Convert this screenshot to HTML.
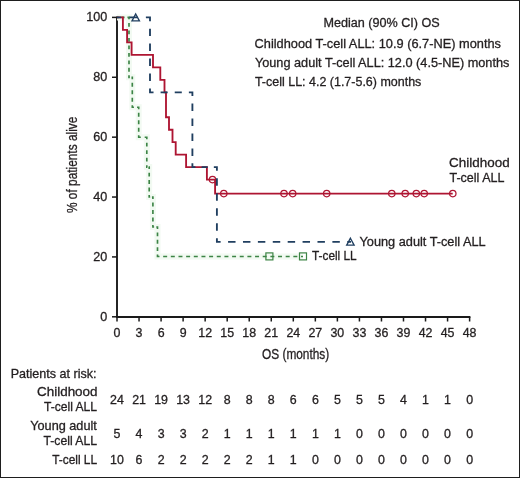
<!DOCTYPE html>
<html><head><meta charset="utf-8"><style>
html,body{margin:0;padding:0;background:#fff;}
#c{position:relative;width:520px;height:478px;box-sizing:border-box;border:1px solid #1e1e1e;overflow:hidden;}
svg{position:absolute;left:-1px;top:-1px;will-change:transform;}
text{font-family:"Liberation Sans", sans-serif;stroke:#231f20;stroke-width:0.3px;}
</style></head><body><div id="c">
<svg width="520" height="478" viewBox="0 0 520 478">
<line x1="117" y1="16.60" x2="117" y2="317.9" stroke="#1a1a1a" stroke-width="1.9"/>
<line x1="116" y1="316.95" x2="470.41" y2="316.95" stroke="#1a1a1a" stroke-width="1.9"/>
<line x1="112" y1="316.80" x2="117" y2="316.80" stroke="#1a1a1a" stroke-width="1.5"/>
<text x="107.2" y="320.5" font-size="12.6" text-anchor="end" fill="#231f20">0</text>
<line x1="112" y1="256.92" x2="117" y2="256.92" stroke="#1a1a1a" stroke-width="1.5"/>
<text x="107.2" y="260.6" font-size="12.6" text-anchor="end" fill="#231f20">20</text>
<line x1="112" y1="197.04" x2="117" y2="197.04" stroke="#1a1a1a" stroke-width="1.5"/>
<text x="107.2" y="200.7" font-size="12.6" text-anchor="end" fill="#231f20">40</text>
<line x1="112" y1="137.16" x2="117" y2="137.16" stroke="#1a1a1a" stroke-width="1.5"/>
<text x="107.2" y="140.9" font-size="12.6" text-anchor="end" fill="#231f20">60</text>
<line x1="112" y1="77.28" x2="117" y2="77.28" stroke="#1a1a1a" stroke-width="1.5"/>
<text x="107.2" y="81.0" font-size="12.6" text-anchor="end" fill="#231f20">80</text>
<line x1="112" y1="17.40" x2="117" y2="17.40" stroke="#1a1a1a" stroke-width="1.5"/>
<text x="107.2" y="21.1" font-size="12.6" text-anchor="end" fill="#231f20">100</text>
<line x1="117.00" y1="317" x2="117.00" y2="321.5" stroke="#1a1a1a" stroke-width="1.5"/>
<text x="117.00" y="337.4" font-size="12.4" text-anchor="middle" fill="#231f20">0</text>
<line x1="139.04" y1="317" x2="139.04" y2="321.5" stroke="#1a1a1a" stroke-width="1.5"/>
<text x="139.04" y="337.4" font-size="12.4" text-anchor="middle" fill="#231f20">3</text>
<line x1="161.08" y1="317" x2="161.08" y2="321.5" stroke="#1a1a1a" stroke-width="1.5"/>
<text x="161.08" y="337.4" font-size="12.4" text-anchor="middle" fill="#231f20">6</text>
<line x1="183.11" y1="317" x2="183.11" y2="321.5" stroke="#1a1a1a" stroke-width="1.5"/>
<text x="183.11" y="337.4" font-size="12.4" text-anchor="middle" fill="#231f20">9</text>
<line x1="205.15" y1="317" x2="205.15" y2="321.5" stroke="#1a1a1a" stroke-width="1.5"/>
<text x="205.15" y="337.4" font-size="12.4" text-anchor="middle" fill="#231f20">12</text>
<line x1="227.19" y1="317" x2="227.19" y2="321.5" stroke="#1a1a1a" stroke-width="1.5"/>
<text x="227.19" y="337.4" font-size="12.4" text-anchor="middle" fill="#231f20">15</text>
<line x1="249.23" y1="317" x2="249.23" y2="321.5" stroke="#1a1a1a" stroke-width="1.5"/>
<text x="249.23" y="337.4" font-size="12.4" text-anchor="middle" fill="#231f20">18</text>
<line x1="271.27" y1="317" x2="271.27" y2="321.5" stroke="#1a1a1a" stroke-width="1.5"/>
<text x="271.27" y="337.4" font-size="12.4" text-anchor="middle" fill="#231f20">21</text>
<line x1="293.30" y1="317" x2="293.30" y2="321.5" stroke="#1a1a1a" stroke-width="1.5"/>
<text x="293.30" y="337.4" font-size="12.4" text-anchor="middle" fill="#231f20">24</text>
<line x1="315.34" y1="317" x2="315.34" y2="321.5" stroke="#1a1a1a" stroke-width="1.5"/>
<text x="315.34" y="337.4" font-size="12.4" text-anchor="middle" fill="#231f20">27</text>
<line x1="337.38" y1="317" x2="337.38" y2="321.5" stroke="#1a1a1a" stroke-width="1.5"/>
<text x="337.38" y="337.4" font-size="12.4" text-anchor="middle" fill="#231f20">30</text>
<line x1="359.42" y1="317" x2="359.42" y2="321.5" stroke="#1a1a1a" stroke-width="1.5"/>
<text x="359.42" y="337.4" font-size="12.4" text-anchor="middle" fill="#231f20">33</text>
<line x1="381.46" y1="317" x2="381.46" y2="321.5" stroke="#1a1a1a" stroke-width="1.5"/>
<text x="381.46" y="337.4" font-size="12.4" text-anchor="middle" fill="#231f20">36</text>
<line x1="403.49" y1="317" x2="403.49" y2="321.5" stroke="#1a1a1a" stroke-width="1.5"/>
<text x="403.49" y="337.4" font-size="12.4" text-anchor="middle" fill="#231f20">39</text>
<line x1="425.53" y1="317" x2="425.53" y2="321.5" stroke="#1a1a1a" stroke-width="1.5"/>
<text x="425.53" y="337.4" font-size="12.4" text-anchor="middle" fill="#231f20">42</text>
<line x1="447.57" y1="317" x2="447.57" y2="321.5" stroke="#1a1a1a" stroke-width="1.5"/>
<text x="447.57" y="337.4" font-size="12.4" text-anchor="middle" fill="#231f20">45</text>
<line x1="469.61" y1="317" x2="469.61" y2="321.5" stroke="#1a1a1a" stroke-width="1.5"/>
<text x="469.61" y="337.4" font-size="12.4" text-anchor="middle" fill="#231f20">48</text>
<text x="262.04" y="358.50" font-size="14.2" textLength="67.19" lengthAdjust="spacingAndGlyphs" fill="#231f20">OS (months)</text>
<text x="-213.02" y="77.20" font-size="14.2" textLength="96.33" lengthAdjust="spacingAndGlyphs" fill="#231f20" transform="rotate(-90)">% of patients alive</text>
<text x="323.57" y="27.20" font-size="12.5" textLength="116.19" lengthAdjust="spacingAndGlyphs" fill="#231f20">Median (90% CI) OS</text>
<text x="254.56" y="48.10" font-size="12.5" textLength="246.40" lengthAdjust="spacingAndGlyphs" fill="#231f20">Childhood T-cell ALL: 10.9 (6.7-NE) months</text>
<text x="254.92" y="66.90" font-size="12.5" textLength="254.44" lengthAdjust="spacingAndGlyphs" fill="#231f20">Young adult T-cell ALL: 12.0 (4.5-NE) months</text>
<text x="254.93" y="85.70" font-size="12.5" textLength="166.43" lengthAdjust="spacingAndGlyphs" fill="#231f20">T-cell LL: 4.2 (1.7-5.6) months</text>
<text x="449.13" y="166.70" font-size="12.5" textLength="60.54" lengthAdjust="spacingAndGlyphs" fill="#231f20">Childhood</text>
<text x="449.53" y="181.90" font-size="12.5" textLength="54.89" lengthAdjust="spacingAndGlyphs" fill="#231f20">T-cell ALL</text>
<text x="359.52" y="245.90" font-size="12.5" textLength="126.10" lengthAdjust="spacingAndGlyphs" fill="#231f20">Young adult T-cell ALL</text>
<text x="311.94" y="259.80" font-size="12.5" textLength="44.76" lengthAdjust="spacingAndGlyphs" fill="#231f20">T-cell LL</text>
<path d="M117.00,17.40 L129.00,17.40 L129.00,77.30 L132.30,77.30 L132.30,107.20 L138.70,107.20 L138.70,137.20 L146.80,137.20 L146.80,167.10 L149.20,167.10 L149.20,197.00 L152.90,197.00 L152.90,227.00 L157.50,227.00 L157.50,256.50 L303.00,256.50" fill="none" stroke="#f2faf2" stroke-width="6"/>
<path d="M117.00,17.40 L118.56,17.40 M121.44,17.40 L124.56,17.40 M127.44,17.40 L129.00,17.40 L129.00,19.35 M129.00,22.94 L129.00,26.83 M129.00,30.43 L129.00,34.32 M129.00,37.92 L129.00,41.81 M129.00,45.40 L129.00,49.30 M129.00,52.89 L129.00,56.78 M129.00,60.38 L129.00,64.27 M129.00,67.87 L129.00,71.76 M129.00,75.35 L129.00,77.30 L129.86,77.30 M131.44,77.30 L132.30,77.30 L132.30,79.24 M132.30,82.83 L132.30,86.72 M132.30,90.31 L132.30,94.19 M132.30,97.78 L132.30,101.67 M132.30,105.26 L132.30,107.20 L133.96,107.20 M137.04,107.20 L138.70,107.20 L138.70,109.15 M138.70,112.75 L138.70,116.65 M138.70,120.25 L138.70,124.15 M138.70,127.75 L138.70,131.65 M138.70,135.25 L138.70,137.20 L140.81,137.20 M144.69,137.20 L146.80,137.20 L146.80,139.14 M146.80,142.73 L146.80,146.62 M146.80,150.21 L146.80,154.09 M146.80,157.68 L146.80,161.57 M146.80,165.16 L146.80,167.10 L147.42,167.10 M148.58,167.10 L149.20,167.10 L149.20,169.04 M149.20,172.63 L149.20,176.52 M149.20,180.11 L149.20,183.99 M149.20,187.58 L149.20,191.47 M149.20,195.06 L149.20,197.00 L150.16,197.00 M151.94,197.00 L152.90,197.00 L152.90,198.95 M152.90,202.55 L152.90,206.45 M152.90,210.05 L152.90,213.95 M152.90,217.55 L152.90,221.45 M152.90,225.05 L152.90,227.00 L154.10,227.00 M156.30,227.00 L157.50,227.00 L157.50,228.92 M157.50,232.46 L157.50,236.29 M157.50,239.83 L157.50,243.67 M157.50,247.21 L157.50,251.04 M157.50,254.58 L157.50,256.50 L159.49,256.50 M163.17,256.50 L167.15,256.50 M170.82,256.50 L174.81,256.50 M178.48,256.50 L182.46,256.50 M186.14,256.50 L190.12,256.50 M193.80,256.50 L197.78,256.50 M201.46,256.50 L205.44,256.50 M209.11,256.50 L213.10,256.50 M216.77,256.50 L220.75,256.50 M224.43,256.50 L228.41,256.50 M232.09,256.50 L236.07,256.50 M239.75,256.50 L243.73,256.50 M247.40,256.50 L251.39,256.50 M255.06,256.50 L259.04,256.50 M262.72,256.50 L266.70,256.50 M270.38,256.50 L274.36,256.50 M278.04,256.50 L282.02,256.50 M285.69,256.50 L289.68,256.50 M293.35,256.50 L297.33,256.50 M301.01,256.50 L303.00,256.50" fill="none" stroke="#3c8445" stroke-width="1.65"/>
<rect x="265.90" y="252.90" width="7" height="7" fill="none" stroke="#3c8445" stroke-width="1.2"/>
<rect x="299.50" y="252.90" width="7" height="7" fill="none" stroke="#3c8445" stroke-width="1.2"/>
<path d="M117,17.4 H122.9 V29.9 H127.1 V42.3 H131.6 V54.8 H153 V67.3 H160.3 V79.8 H164.5 V92.3 H166 V117.2 H169 V129.7 H172.5 V142.1 H175.7 V154.6 H186.1 V167.1 H206.9 V179.6 H215.1 V193.6 H452.7" fill="none" stroke="#ae1532" stroke-width="1.85"/>
<circle cx="212.5" cy="179.6" r="3.2" fill="none" stroke="#ae1532" stroke-width="1.25"/>
<circle cx="223.8" cy="193.6" r="3.2" fill="none" stroke="#ae1532" stroke-width="1.25"/>
<circle cx="284" cy="193.6" r="3.2" fill="none" stroke="#ae1532" stroke-width="1.25"/>
<circle cx="292.7" cy="193.6" r="3.2" fill="none" stroke="#ae1532" stroke-width="1.25"/>
<circle cx="326.7" cy="193.6" r="3.2" fill="none" stroke="#ae1532" stroke-width="1.25"/>
<circle cx="391.8" cy="193.6" r="3.2" fill="none" stroke="#ae1532" stroke-width="1.25"/>
<circle cx="405.2" cy="193.6" r="3.2" fill="none" stroke="#ae1532" stroke-width="1.25"/>
<circle cx="416.3" cy="193.6" r="3.2" fill="none" stroke="#ae1532" stroke-width="1.25"/>
<circle cx="424.2" cy="193.6" r="3.2" fill="none" stroke="#ae1532" stroke-width="1.25"/>
<circle cx="452.8" cy="193.6" r="3.2" fill="none" stroke="#ae1532" stroke-width="1.25"/>
<path d="M117.00,17.40 L121.12,17.40 M129.38,17.40 L137.62,17.40 M145.88,17.40 L150.00,17.40 L150.00,21.14 M150.00,28.63 L150.00,36.12 M150.00,43.61 L150.00,51.10 M150.00,58.59 L150.00,66.08 M150.00,73.58 L150.00,81.06 M150.00,88.56 L150.00,92.30 L153.53,92.30 M160.60,92.30 L167.67,92.30 M174.73,92.30 L181.80,92.30 M188.87,92.30 L192.40,92.30 L192.40,96.04 M192.40,103.52 L192.40,111.00 M192.40,118.48 L192.40,125.96 M192.40,133.44 L192.40,140.92 M192.40,148.40 L192.40,155.88 M192.40,163.36 L192.40,167.10 L195.46,167.10 M201.59,167.10 L207.71,167.10 M213.84,167.10 L216.90,167.10 L216.90,170.84 M216.90,178.32 L216.90,185.80 M216.90,193.28 L216.90,200.76 M216.90,208.24 L216.90,215.72 M216.90,223.20 L216.90,230.68 M216.90,238.16 L216.90,241.90 L220.62,241.90 M228.08,241.90 L235.53,241.90 M242.97,241.90 L250.43,241.90 M257.88,241.90 L265.32,241.90 M272.77,241.90 L280.23,241.90 M287.68,241.90 L295.12,241.90 M302.57,241.90 L310.02,241.90 M317.48,241.90 L324.92,241.90 M332.38,241.90 L339.82,241.90 M347.27,241.90 L351.00,241.90" fill="none" stroke="#203f60" stroke-width="1.85"/>
<path d="M135.70,14.00 L139.40,20.90 L132.00,20.90 Z" fill="none" stroke="#203f60" stroke-width="1.35"/>
<path d="M350.40,238.20 L354.10,245.10 L346.70,245.10 Z" fill="none" stroke="#203f60" stroke-width="1.35"/>
<text x="10.67" y="377.80" font-size="12.2" textLength="85.87" lengthAdjust="spacingAndGlyphs" fill="#231f20">Patients at risk:</text>
<text x="37.03" y="396.30" font-size="12.4" textLength="60.54" lengthAdjust="spacingAndGlyphs" fill="#231f20">Childhood</text>
<text x="43.93" y="411.10" font-size="12.4" textLength="53.17" lengthAdjust="spacingAndGlyphs" fill="#231f20">T-cell ALL</text>
<text x="30.22" y="430.20" font-size="12.4" textLength="66.57" lengthAdjust="spacingAndGlyphs" fill="#231f20">Young adult</text>
<text x="43.53" y="445.40" font-size="12.4" textLength="53.57" lengthAdjust="spacingAndGlyphs" fill="#231f20">T-cell ALL</text>
<text x="52.14" y="463.60" font-size="12.4" textLength="44.96" lengthAdjust="spacingAndGlyphs" fill="#231f20">T-cell LL</text>
<text x="117.00" y="403.6" font-size="12.4" text-anchor="middle" fill="#231f20">24</text>
<text x="139.04" y="403.6" font-size="12.4" text-anchor="middle" fill="#231f20">21</text>
<text x="161.08" y="403.6" font-size="12.4" text-anchor="middle" fill="#231f20">19</text>
<text x="183.11" y="403.6" font-size="12.4" text-anchor="middle" fill="#231f20">13</text>
<text x="205.15" y="403.6" font-size="12.4" text-anchor="middle" fill="#231f20">12</text>
<text x="227.19" y="403.6" font-size="12.4" text-anchor="middle" fill="#231f20">8</text>
<text x="249.23" y="403.6" font-size="12.4" text-anchor="middle" fill="#231f20">8</text>
<text x="271.27" y="403.6" font-size="12.4" text-anchor="middle" fill="#231f20">8</text>
<text x="293.30" y="403.6" font-size="12.4" text-anchor="middle" fill="#231f20">6</text>
<text x="315.34" y="403.6" font-size="12.4" text-anchor="middle" fill="#231f20">6</text>
<text x="337.38" y="403.6" font-size="12.4" text-anchor="middle" fill="#231f20">5</text>
<text x="359.42" y="403.6" font-size="12.4" text-anchor="middle" fill="#231f20">5</text>
<text x="381.46" y="403.6" font-size="12.4" text-anchor="middle" fill="#231f20">5</text>
<text x="403.49" y="403.6" font-size="12.4" text-anchor="middle" fill="#231f20">4</text>
<text x="425.53" y="403.6" font-size="12.4" text-anchor="middle" fill="#231f20">1</text>
<text x="447.57" y="403.6" font-size="12.4" text-anchor="middle" fill="#231f20">1</text>
<text x="469.61" y="403.6" font-size="12.4" text-anchor="middle" fill="#231f20">0</text>
<text x="117.00" y="437.8" font-size="12.4" text-anchor="middle" fill="#231f20">5</text>
<text x="139.04" y="437.8" font-size="12.4" text-anchor="middle" fill="#231f20">4</text>
<text x="161.08" y="437.8" font-size="12.4" text-anchor="middle" fill="#231f20">3</text>
<text x="183.11" y="437.8" font-size="12.4" text-anchor="middle" fill="#231f20">3</text>
<text x="205.15" y="437.8" font-size="12.4" text-anchor="middle" fill="#231f20">2</text>
<text x="227.19" y="437.8" font-size="12.4" text-anchor="middle" fill="#231f20">1</text>
<text x="249.23" y="437.8" font-size="12.4" text-anchor="middle" fill="#231f20">1</text>
<text x="271.27" y="437.8" font-size="12.4" text-anchor="middle" fill="#231f20">1</text>
<text x="293.30" y="437.8" font-size="12.4" text-anchor="middle" fill="#231f20">1</text>
<text x="315.34" y="437.8" font-size="12.4" text-anchor="middle" fill="#231f20">1</text>
<text x="337.38" y="437.8" font-size="12.4" text-anchor="middle" fill="#231f20">1</text>
<text x="359.42" y="437.8" font-size="12.4" text-anchor="middle" fill="#231f20">0</text>
<text x="381.46" y="437.8" font-size="12.4" text-anchor="middle" fill="#231f20">0</text>
<text x="403.49" y="437.8" font-size="12.4" text-anchor="middle" fill="#231f20">0</text>
<text x="425.53" y="437.8" font-size="12.4" text-anchor="middle" fill="#231f20">0</text>
<text x="447.57" y="437.8" font-size="12.4" text-anchor="middle" fill="#231f20">0</text>
<text x="469.61" y="437.8" font-size="12.4" text-anchor="middle" fill="#231f20">0</text>
<text x="117.00" y="464.0" font-size="12.4" text-anchor="middle" fill="#231f20">10</text>
<text x="139.04" y="464.0" font-size="12.4" text-anchor="middle" fill="#231f20">6</text>
<text x="161.08" y="464.0" font-size="12.4" text-anchor="middle" fill="#231f20">2</text>
<text x="183.11" y="464.0" font-size="12.4" text-anchor="middle" fill="#231f20">2</text>
<text x="205.15" y="464.0" font-size="12.4" text-anchor="middle" fill="#231f20">2</text>
<text x="227.19" y="464.0" font-size="12.4" text-anchor="middle" fill="#231f20">2</text>
<text x="249.23" y="464.0" font-size="12.4" text-anchor="middle" fill="#231f20">2</text>
<text x="271.27" y="464.0" font-size="12.4" text-anchor="middle" fill="#231f20">1</text>
<text x="293.30" y="464.0" font-size="12.4" text-anchor="middle" fill="#231f20">1</text>
<text x="315.34" y="464.0" font-size="12.4" text-anchor="middle" fill="#231f20">0</text>
<text x="337.38" y="464.0" font-size="12.4" text-anchor="middle" fill="#231f20">0</text>
<text x="359.42" y="464.0" font-size="12.4" text-anchor="middle" fill="#231f20">0</text>
<text x="381.46" y="464.0" font-size="12.4" text-anchor="middle" fill="#231f20">0</text>
<text x="403.49" y="464.0" font-size="12.4" text-anchor="middle" fill="#231f20">0</text>
<text x="425.53" y="464.0" font-size="12.4" text-anchor="middle" fill="#231f20">0</text>
<text x="447.57" y="464.0" font-size="12.4" text-anchor="middle" fill="#231f20">0</text>
<text x="469.61" y="464.0" font-size="12.4" text-anchor="middle" fill="#231f20">0</text>
</svg></div></body></html>
